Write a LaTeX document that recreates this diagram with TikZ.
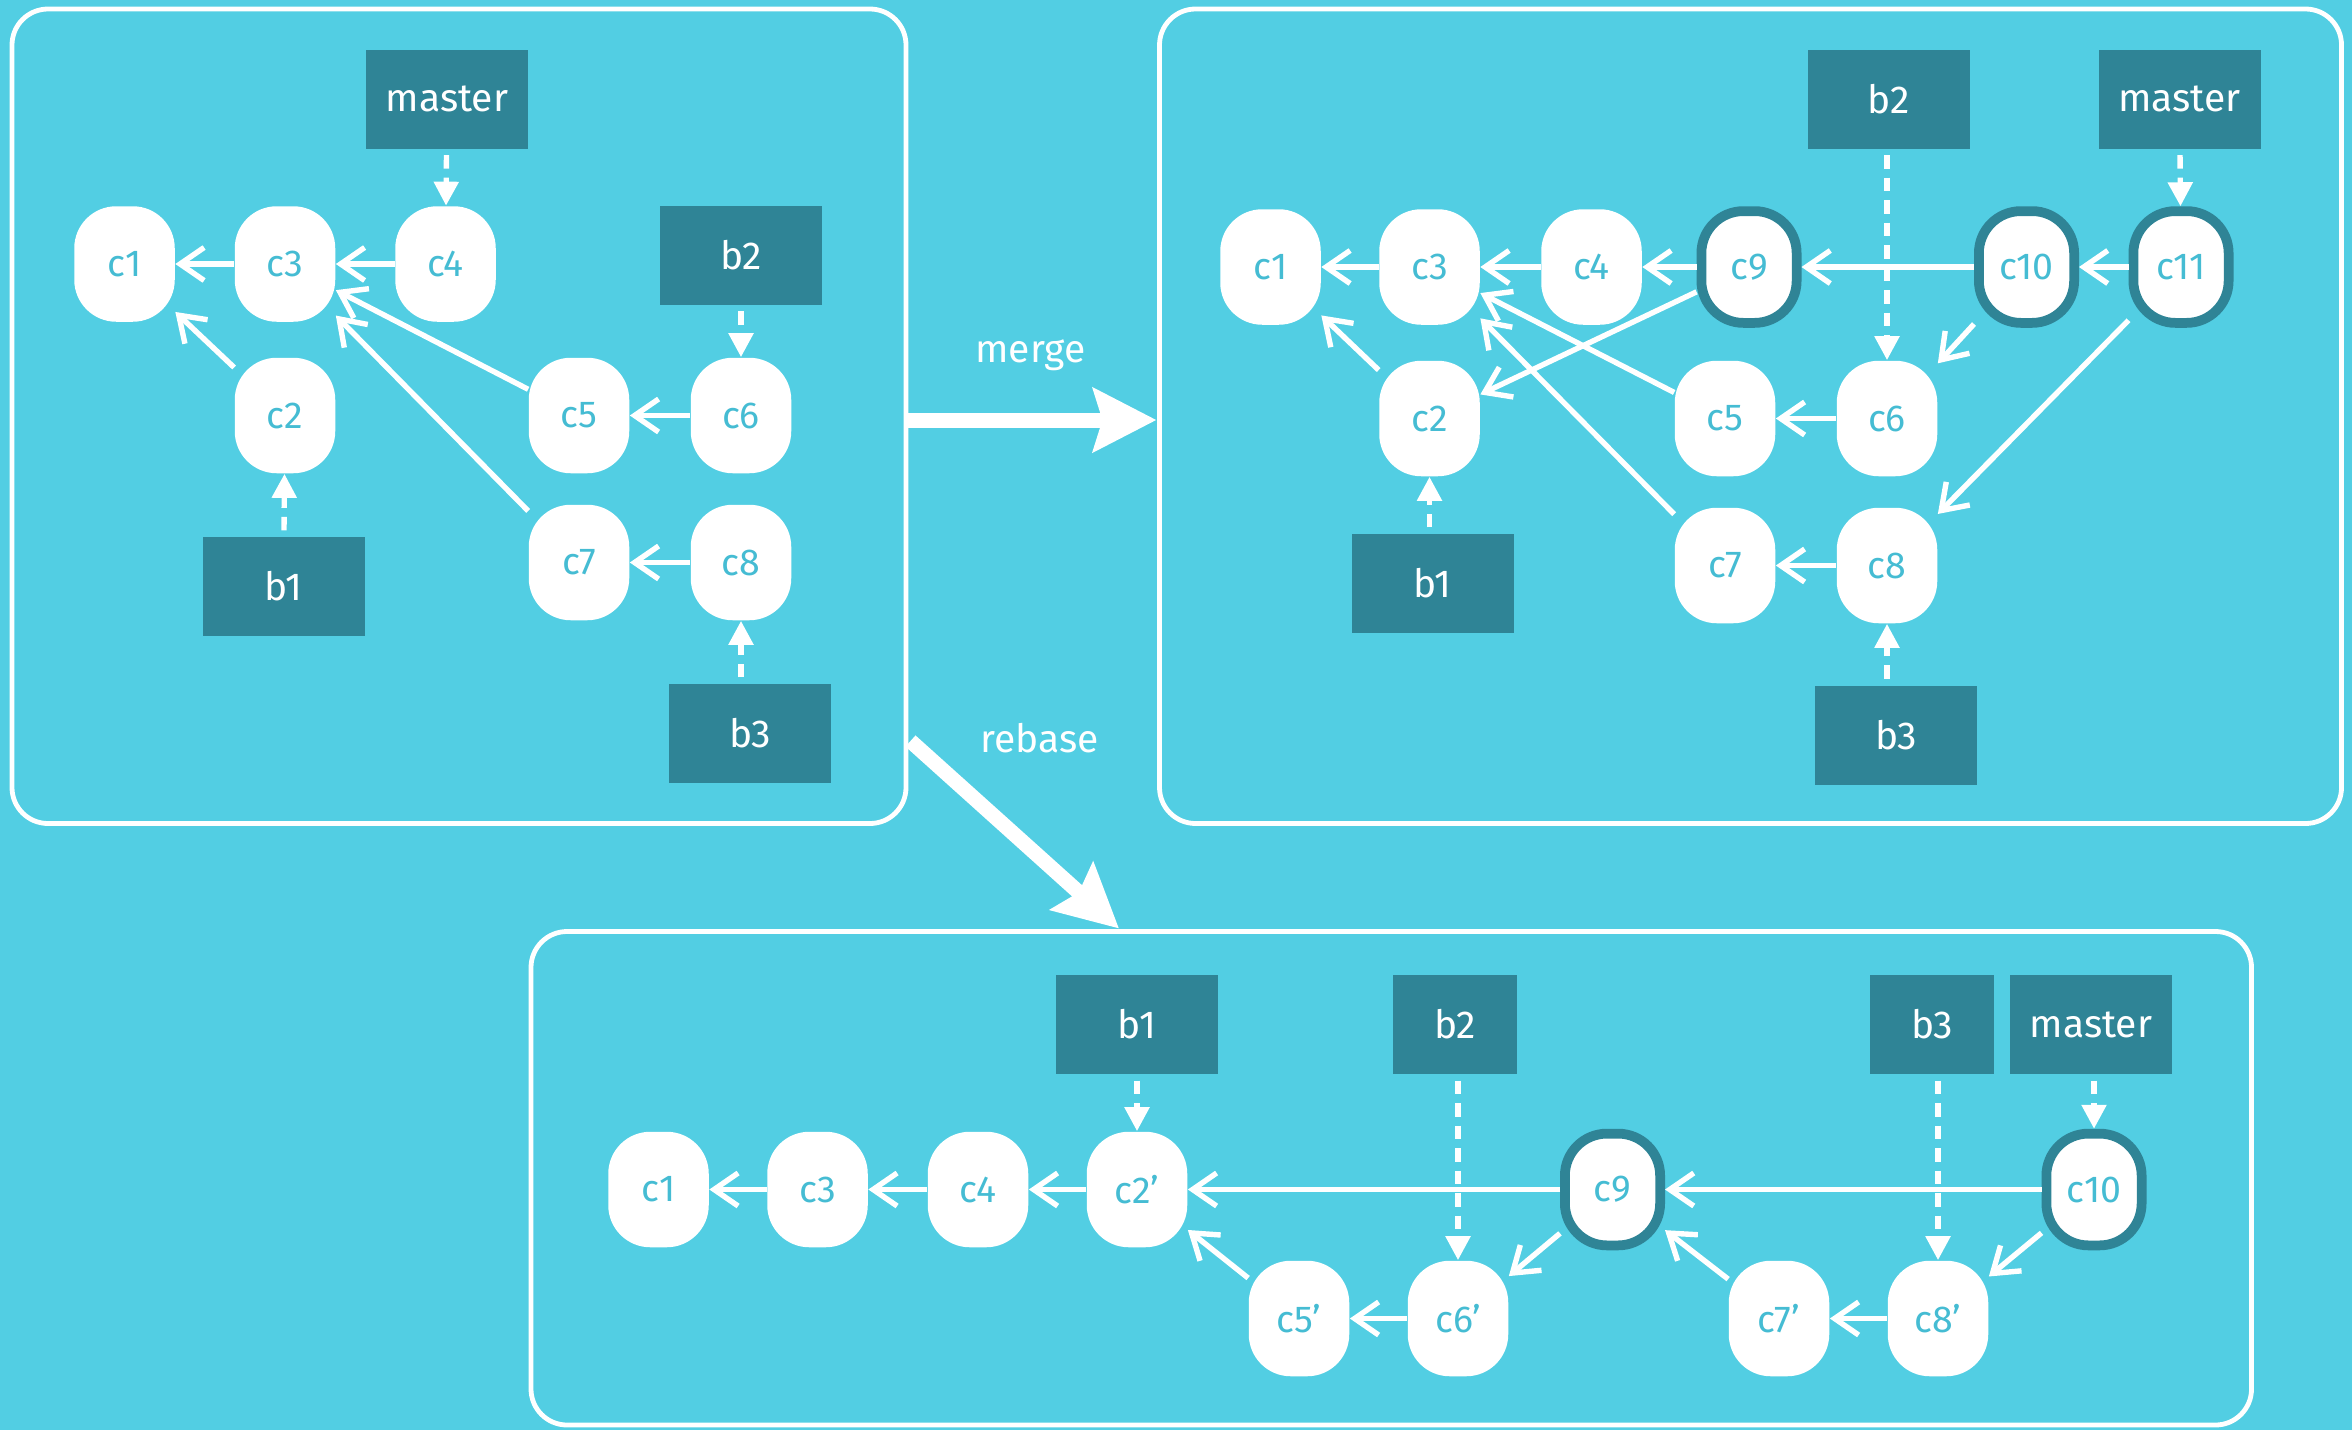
\documentclass[tikz,border=0pt]{standalone}
\usepackage{fontspec}
\setmainfont{Fira Sans}
\usetikzlibrary{arrows.meta}
\definecolor{bg}{HTML}{52CEE3}
\definecolor{dark}{HTML}{2F8496}
\definecolor{ctext}{HTML}{45BCD3}
\begin{document}
\begin{tikzpicture}[x=0.5pt,y=-0.5pt,
  commit/.style={fill=white, rounded corners=14pt, minimum width=33.5pt, minimum height=38.5pt, inner sep=0pt, text=ctext, font=\fontsize{12.5}{14}\selectfont},
  head/.style={commit, draw=dark, line width=3.25pt, minimum width=31.75pt, minimum height=37.25pt},
  branch/.style={fill=dark, minimum width=54pt, minimum height=33pt, inner sep=0pt, text=white, font=\fontsize{13}{15}\selectfont},
  narrow/.style={branch, minimum width=41.5pt},
  parent/.style={draw=white, line width=1.8pt, -{Straight Barb[length=8pt,width=11pt,line width=1.8pt]}},
  ref/.style={draw=white, line width=1.8pt, dash pattern=on 4.5pt off 3pt, -{Triangle[length=8pt,width=8pt]}, shorten <=2pt},
  panel/.style={draw=white, line width=1.6pt, rounded corners=12pt},
  bigarrow/.style={draw=white, line width=5pt, -{Stealth[length=21pt,width=21pt,inset=3pt]}},
  lbl/.style={text=white, font=\fontsize{13}{15}\selectfont}
]
\fill[bg] (0,0) rectangle (1568,953);
\useasboundingbox (0,0) rectangle (1568,953);

% panels
\draw[panel] (8,6) rectangle (604,549);
\draw[panel] (773,6) rectangle (1561,549);
\draw[panel] (354,621) rectangle (1501,950);

% ---------- panel 1 ----------
\node[branch] (m1) at (298,66) {master};
\node[commit] (a1) at (83,176) {c1};
\node[commit] (a3) at (190,176) {c3};
\node[commit] (a4) at (297,176) {c4};
\node[branch] (b2a) at (494,170) {b2};
\node[commit] (a2) at (190,277) {c2};
\node[commit] (a5) at (386,277) {c5};
\node[commit] (a6) at (494,277) {c6};
\node[branch] (b1a) at (189,391) {b1};
\node[commit] (a7) at (386,375) {c7};
\node[commit] (a8) at (494,375) {c8};
\node[branch] (b3a) at (500,489) {b3};

\draw[parent] (a3) -- (a1);
\draw[parent] (a4) -- (a3);
\draw[parent] (a2) -- (a1);
\draw[parent] (a5) -- (a3);
\draw[parent] (a7) -- (a3);
\draw[parent] (a6) -- (a5);
\draw[parent] (a8) -- (a7);
\draw[ref] (m1) -- (a4);
\draw[ref] (b2a) -- (a6);
\draw[ref] (b1a) -- (a2);
\draw[ref] (b3a.north -| a8.south) -- (a8.south);

% ---------- merge / rebase ----------
\coordinate (ms) at (605,280);
\coordinate (me) at (771,280);
\draw[bigarrow] (ms) -- (me);
\node[lbl] (mlabel) at (687,237) {merge};
\coordinate (rs) at (607,494);
\coordinate (re) at (746,619);
\draw[bigarrow] (rs) -- (re);
\node[lbl] (rlabel) at (693,492) {rebase};

% ---------- panel 2 ----------
\node[branch] (b2b) at (1259,66) {b2};
\node[branch] (mb) at (1453,66) {master};
\node[commit] (p1) at (847,178) {c1};
\node[commit] (p3) at (953,178) {c3};
\node[commit] (p4) at (1061,178) {c4};
\node[head] (p9) at (1166,178) {c9};
\node[head] (p10) at (1351,178) {c10};
\node[head] (p11) at (1454,178) {c11};
\node[commit] (p2) at (953,279) {c2};
\node[commit] (p5) at (1150,279) {c5};
\node[commit] (p6) at (1258,279) {c6};
\node[commit] (p7) at (1150,377) {c7};
\node[commit] (p8) at (1258,377) {c8};
\node[branch] (b1b) at (955,389) {b1};
\node[branch] (b3b) at (1264,490) {b3};

\draw[parent] (p3) -- (p1);
\draw[parent] (p4) -- (p3);
\draw[parent] (p9) -- (p4);
\draw[parent] (p10) -- (p9);
\draw[parent] (p11) -- (p10);
\draw[parent] (p2) -- (p1);
\draw[parent] (p5) -- (p3);
\draw[parent] (p7) -- (p3);
\draw[parent] (p9) -- (p2);
\draw[parent] (p6) -- (p5);
\draw[parent] (p8) -- (p7);
\draw[parent] (p10) -- (p6);
\draw[parent] (p11) -- (p8);
\draw[ref] (b2b.south -| p6.north) -- (p6.north);
\draw[ref] (mb) -- (p11);
\draw[ref] (b1b.north -| p2.south) -- (p2.south);
\draw[ref] (b3b.north -| p8.south) -- (p8.south);

% ---------- panel 3 ----------
\node[branch] (b1c) at (758,683) {b1};
\node[narrow] (b2c) at (970,683) {b2};
\node[narrow] (b3c) at (1288,683) {b3};
\node[branch] (mc) at (1394,683) {master};
\node[commit] (q1) at (439,793) {c1};
\node[commit] (q3) at (545,793) {c3};
\node[commit] (q4) at (652,793) {c4};
\node[commit] (q2) at (758,793) {c2'};
\node[head] (q9) at (1075,793) {c9};
\node[head] (q10) at (1396,793) {c10};
\node[commit] (q5) at (866,879) {c5'};
\node[commit] (q6) at (972,879) {c6'};
\node[commit] (q7) at (1186,879) {c7'};
\node[commit] (q8) at (1292,879) {c8'};

\draw[parent] (q3) -- (q1);
\draw[parent] (q4) -- (q3);
\draw[parent] (q2) -- (q4);
\draw[parent] (q9) -- (q2);
\draw[parent] (q10) -- (q9);
\draw[parent] (q5) -- (q2);
\draw[parent] (q6) -- (q5);
\draw[parent] (q9) -- (q6);
\draw[parent] (q7) -- (q9);
\draw[parent] (q8) -- (q7);
\draw[parent] (q10) -- (q8);
\draw[ref] (b1c) -- (q2);
\draw[ref] (b2c.south -| q6.north) -- (q6.north);
\draw[ref] (b3c.south -| q8.north) -- (q8.north);
\draw[ref] (mc.south -| q10.north) -- (q10.north);
\end{tikzpicture}
\end{document}
